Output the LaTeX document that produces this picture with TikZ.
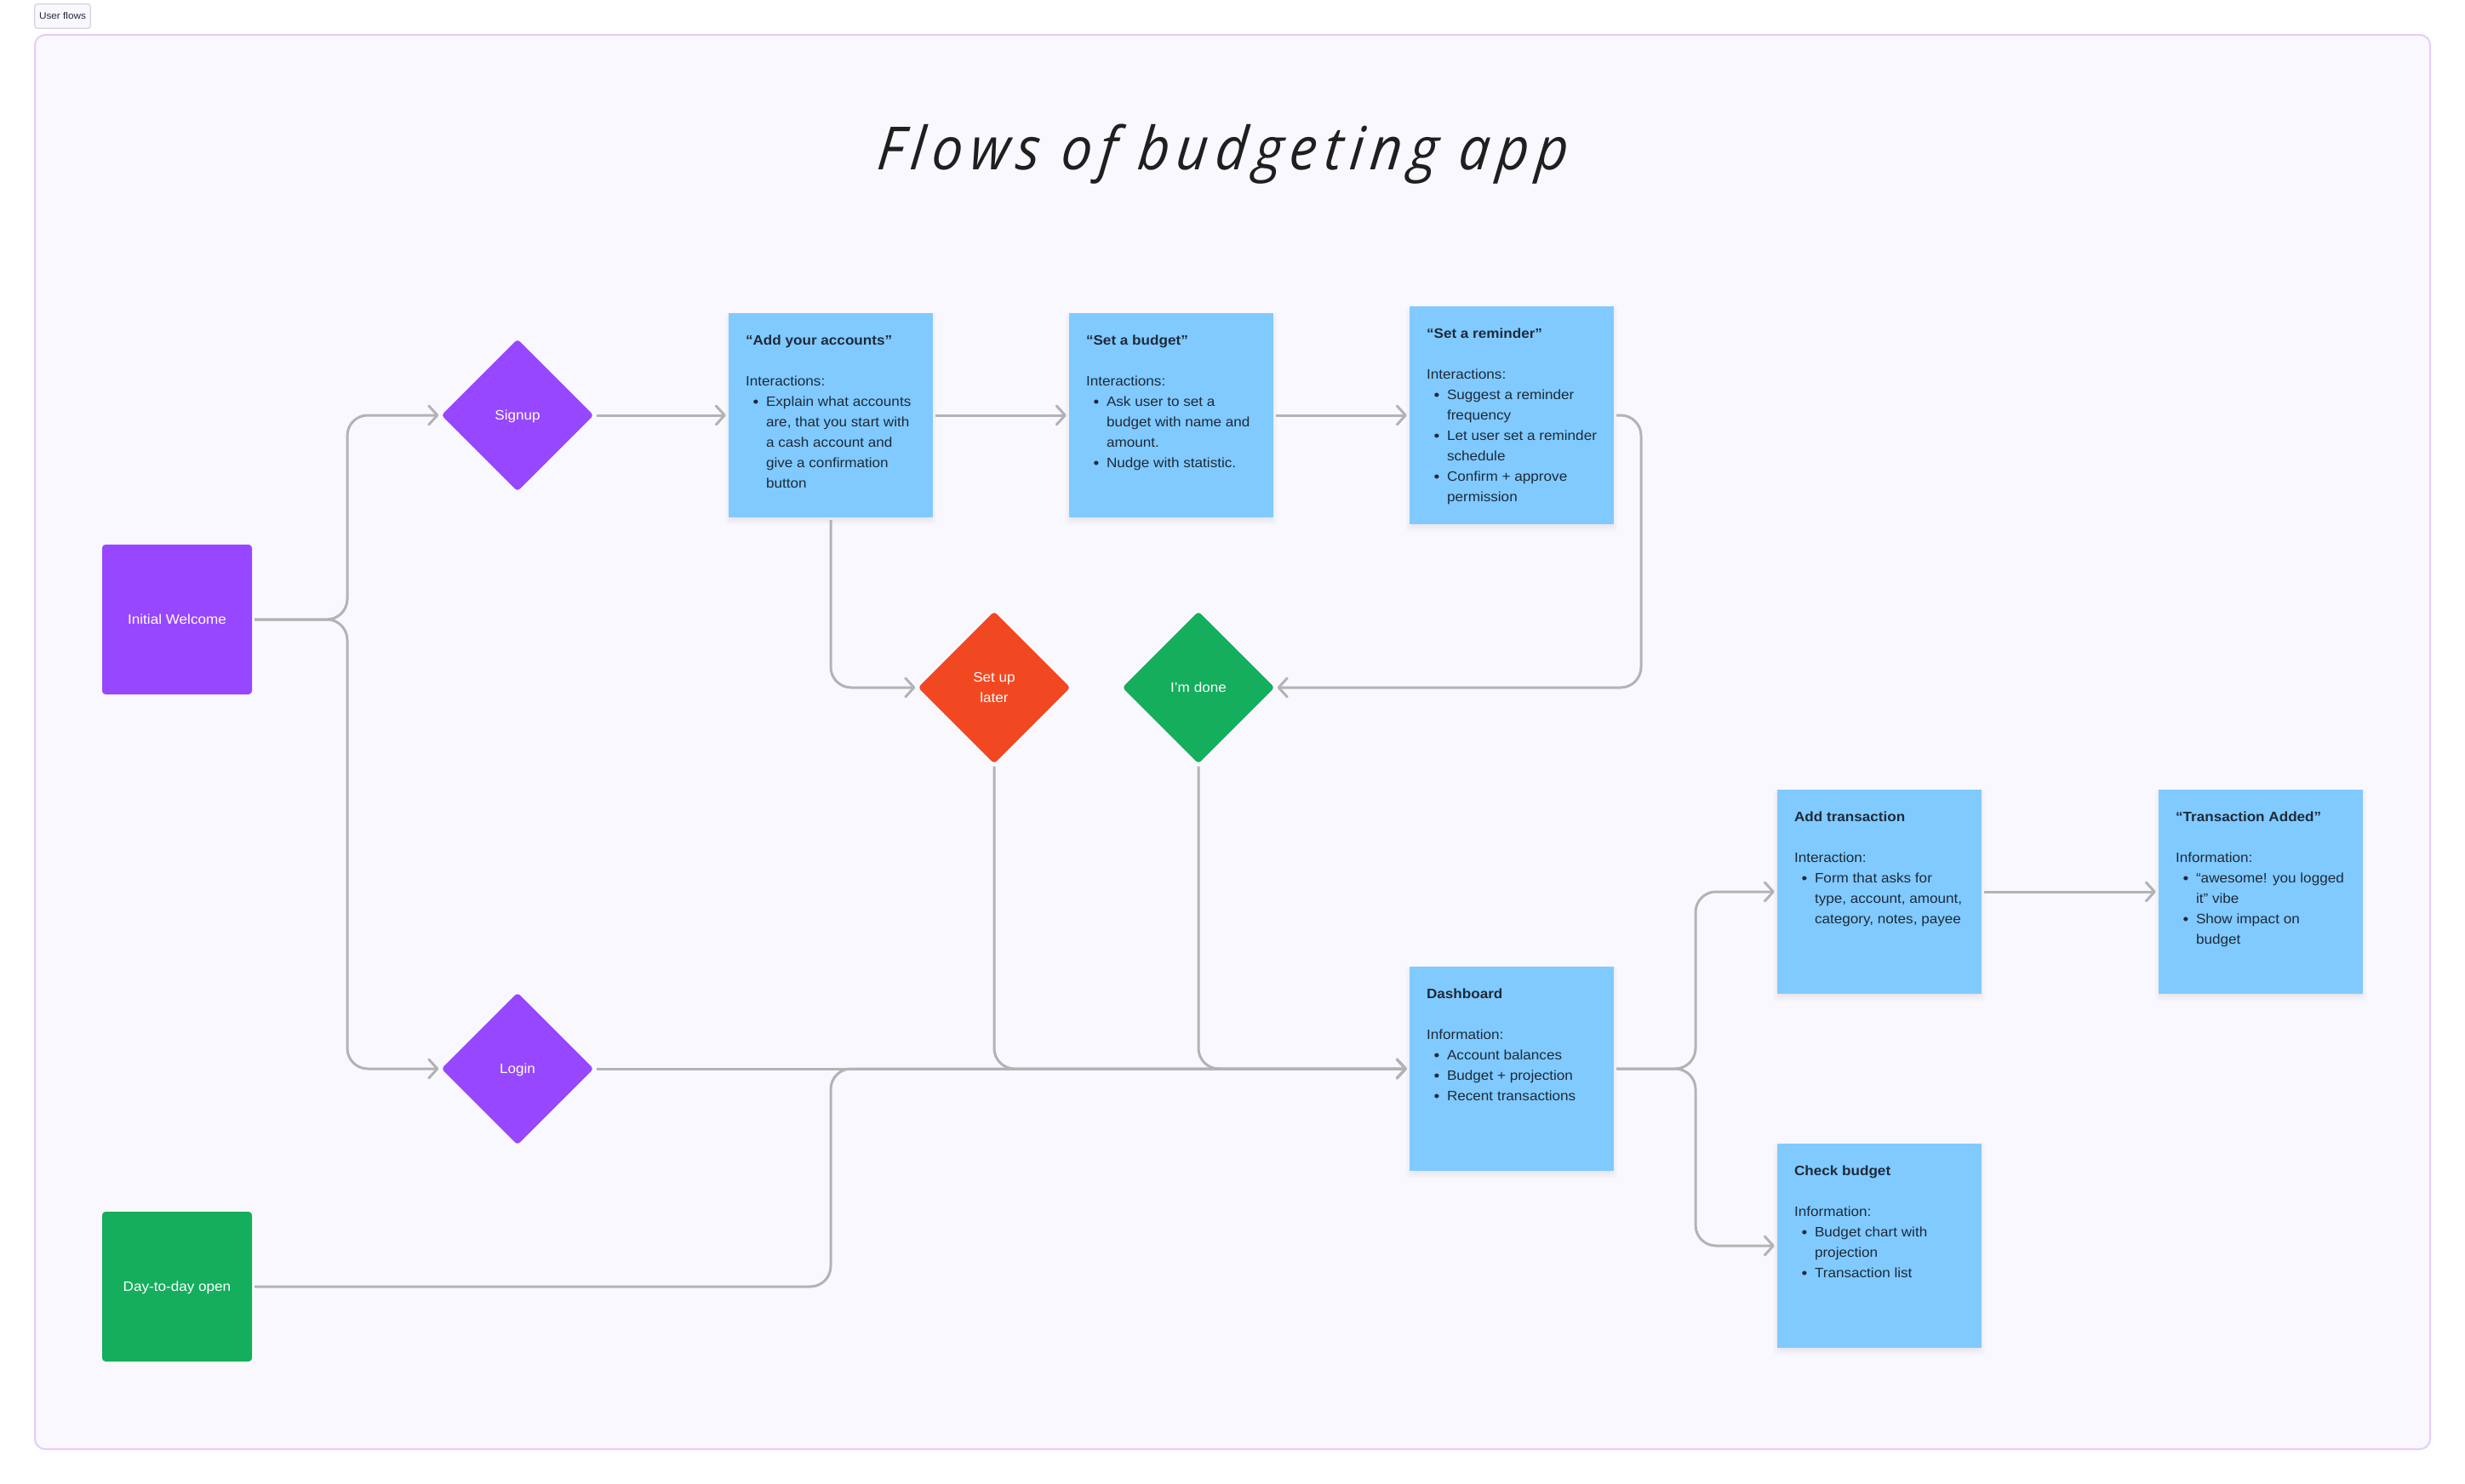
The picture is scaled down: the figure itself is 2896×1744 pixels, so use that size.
\documentclass[tikz,border=0pt]{standalone}
\usepackage{fontspec}
\setmainfont{Liberation Sans}[FakeStretch=1.07]
\newfontfamily\titlefont{Open Sans}[FakeStretch=0.92,LetterSpace=12,FakeSlant=0.1]
\usetikzlibrary{shapes.geometric,arrows.meta,calc}
\definecolor{framefill}{HTML}{FAF8FF}
\definecolor{framedraw}{HTML}{E4CCFF}
\definecolor{labeldraw}{HTML}{D5D2DE}
\definecolor{noteblue}{HTML}{80CAFF}
\definecolor{purp}{HTML}{9747FF}
\definecolor{grn}{HTML}{14AE5C}
\definecolor{redo}{HTML}{F24822}
\definecolor{linegrey}{HTML}{B3B3B3}
\definecolor{inktext}{HTML}{1E2A38}
\newcommand\nline[1]{\par\noindent\rule{0pt}{17.5pt}\rule[-6.5pt]{0pt}{0pt}#1}
\newcommand\bline[1]{\nline{\makebox[24pt][c]{\raisebox{-0.6pt}{\fontsize{18}{24}\selectfont •}}#1}}
\newcommand\cont[1]{\nline{\hspace*{24pt}#1}}
\newcommand\stickynote[5]{%
  \foreach \k in {-3,-2,...,5}{\fill[black,opacity=.009,rounded corners=4pt] ({#2-120-\k},{#3-#4/2+4-\k}) rectangle ({#2+120+\k},{#3+#4/2+4+\k});}
  \node[notebox,minimum height=#4pt] (#1) at (#2,#3) {\parbox[c][#4pt][t]{200pt}{\offinterlineskip\vspace*{20pt}#5}};}
\tikzset{
  notebox/.style={rectangle,fill=noteblue,inner sep=0pt,minimum width=240pt,text=inktext,font=\fontsize{16}{24}\selectfont},
  tile/.style={rectangle,rounded corners=4pt,inner sep=0pt,minimum width=176pt,minimum height=176pt,text=white,text height=17.5pt,text depth=6.5pt,font=\fontsize{16}{24}\selectfont},
  dia/.style={diamond,aspect=1,rounded corners=4pt,inner sep=0pt,minimum width=179pt,minimum height=179pt,text=white,font=\fontsize{16}{24}\selectfont},
  conn/.style={draw=linegrey,line width=3pt,rounded corners=24pt,shorten <=3pt},
  arrowed/.style={conn,shorten >=3pt,-{Straight Barb[length=10pt,width=22pt,line width=3pt,round]}}
}
\begin{document}
\begin{tikzpicture}[x=1pt,y=-1pt]
\useasboundingbox (0,0) rectangle (2896,1744);
\fill[white] (0,0) rectangle (2896,1744);
\node[draw=labeldraw,fill=framefill,line width=1.3pt,rounded corners=3pt,rectangle,minimum width=65.5pt,minimum height=28.5pt,inner sep=0pt,text=inktext,font=\fontsize{11}{15}\selectfont] (label) at (73.5,19) {User flows};
\node[draw=framedraw,fill=framefill,line width=2pt,rounded corners=12pt,rectangle,minimum width=2814pt,minimum height=1662pt,inner sep=0pt] (frame) at (1448,872) {};
\node[anchor=base,text=black!88,font=\titlefont\fontsize{70}{90}\selectfont\itshape] (title) at (1435,200) {Flows of budgeting app};

\node[tile,fill=purp] (init) at (208,728) {Initial Welcome};
\node[tile,fill=grn] (day) at (208,1512) {Day-to-day open};
\node[dia,fill=purp,text height=17.5pt,text depth=6.5pt] (signup) at (608,488) {Signup};
\node[dia,fill=purp,text height=17.5pt,text depth=6.5pt] (login) at (608,1256) {Login};
\node[dia,fill=redo,align=center] (later) at (1168,808) {Set up\hspace{4pt}\\later};
\node[dia,fill=grn,text height=17.5pt,text depth=6.5pt] (done) at (1408,808) {I’m done};

\stickynote{accounts}{976}{488}{240}{\nline{\textbf{“Add your accounts”}}\nline{}\nline{Interactions:}\bline{Explain what accounts}\cont{are, that you start with}\cont{a cash account and}\cont{give a confirmation}\cont{button}}
\stickynote{budget}{1376}{488}{240}{\nline{\textbf{“Set a budget”}}\nline{}\nline{Interactions:}\bline{Ask user to set a}\cont{budget with name and}\cont{amount.}\bline{Nudge with statistic.}}
\stickynote{reminder}{1776}{488}{256}{\nline{\textbf{“Set a reminder”}}\nline{}\nline{Interactions:}\bline{Suggest a reminder}\cont{frequency}\bline{Let user set a reminder}\cont{schedule}\bline{Confirm + approve}\cont{permission}}
\stickynote{dash}{1776}{1256}{240}{\nline{\textbf{Dashboard}}\nline{}\nline{Information:}\bline{Account balances}\bline{Budget + projection}\bline{Recent transactions}}
\stickynote{addtx}{2208}{1048}{240}{\nline{\textbf{Add transaction}}\nline{}\nline{Interaction:}\bline{Form that asks for}\cont{type, account, amount,}\cont{category, notes, payee}}
\stickynote{txadded}{2656}{1048}{240}{\nline{\textbf{“Transaction Added”}}\nline{}\nline{Information:}\bline{“awesome! you logged}\cont{it” vibe}\bline{Show impact on}\cont{budget}}
\stickynote{check}{2208}{1464}{240}{\nline{\textbf{Check budget}}\nline{}\nline{Information:}\bline{Budget chart with}\cont{projection}\bline{Transaction list}}

\coordinate (busA) at (408,0);
\coordinate (busB) at (976,0);
\coordinate (busC) at (1928,0);
\coordinate (busD) at (1992,0);

\draw[arrowed] (init.east) -- (init.east -| busA) |- (signup.west);
\draw[arrowed] (init.east) -- (init.east -| busA) |- (login.west);
\draw[arrowed] (signup.east) -- (accounts.west);
\draw[arrowed] (accounts.east) -- (budget.west);
\draw[arrowed] (budget.east) -- (reminder.west);
\draw[arrowed] (accounts.south) |- (later.west);
\draw[arrowed] (reminder.east) -- (reminder.east -| busC) |- (done.east);
\draw[arrowed] (login.east) -- (dash.west);
\draw[arrowed] (later.south) |- (dash.west);
\draw[arrowed] (done.south) |- (dash.west);
\draw[arrowed] (day.east) -- (day.east -| busB) |- (dash.west);
\draw[arrowed] (dash.east) -- (dash.east -| busD) |- (addtx.west);
\draw[arrowed] (dash.east) -- (dash.east -| busD) |- (check.west);
\draw[arrowed] (addtx.east) -- (txadded.west);
\end{tikzpicture}
\end{document}
